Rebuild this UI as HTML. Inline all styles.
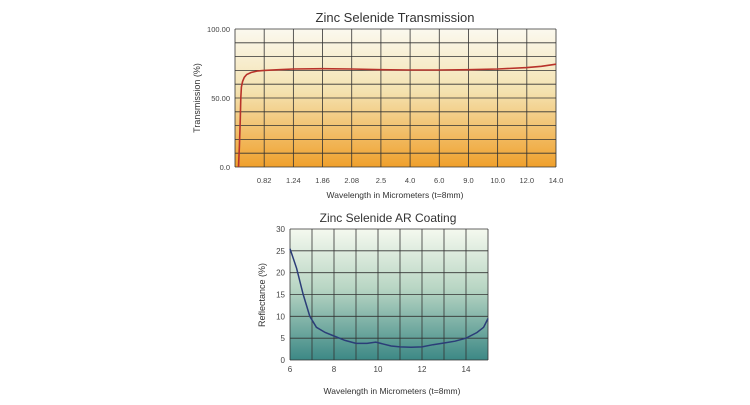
<!DOCTYPE html>
<html><head><meta charset="utf-8"><style>
body{margin:0;background:#fff;width:750px;height:400px;overflow:hidden;font-family:"Liberation Sans",sans-serif}
</style></head><body>
<svg id="s" width="750" height="400">
<defs>
<linearGradient id="g1" x1="0" y1="0" x2="0" y2="1"><stop offset="0" stop-color="#fbf9ef"/><stop offset="0.45" stop-color="#f4e2b0"/><stop offset="1" stop-color="#f0a02c"/></linearGradient>
<linearGradient id="g2" x1="0" y1="0" x2="0" y2="1"><stop offset="0" stop-color="#f5f9ef"/><stop offset="0.45" stop-color="#b9d6c4"/><stop offset="1" stop-color="#3c8885"/></linearGradient>
</defs>
</svg>
<script>
const tCats=["","0.82","1.24","1.86","2.08","2.5","4.0","6.0","9.0","10.0","12.0","14.0"];
const tX=[0.12,0.15,0.18,0.2,0.22,0.26,0.32,0.4,0.55,0.75,1,1.5,2,3,4,5,6,7,8,9,10,10.5,11];
const tY=[0,15,35,50,58,62,65,67,68.5,69.5,70,70.5,71,71.2,71,70.5,70.3,70.3,70.5,71,72,73,74.5];
const tYTicks=[0,50,100];
const rX=[6,6.3,6.6,6.9,7.2,7.6,8,8.5,9,9.5,9.9,10.2,10.6,11,11.5,12,12.5,13,13.5,14,14.5,14.8,15];
const rY=[25.5,21,15,10,7.5,6.3,5.5,4.5,3.8,3.8,4.1,3.7,3.2,3,2.9,3,3.5,3.9,4.3,5,6.3,7.5,9.5];
const rXTicks=[6,8,10,12,14];
const rYTicks=[0,5,10,15,20,25,30];
const s=document.getElementById('s');const NS="http://www.w3.org/2000/svg";
function mk(t,a,txt){const e=document.createElementNS(NS,t);for(const k in a)e.setAttribute(k,a[k]);if(txt!==undefined)e.textContent=txt;s.appendChild(e);return e;}
// chart 1
const L1=235,R1=556,T1=29,B1=167;
const x1=v=>L1+v*(R1-L1)/11, y1=v=>B1-v*(B1-T1)/100;
let e=mk('rect',{x:L1,y:T1,width:R1-L1,height:B1-T1,fill:'url(#g1)'});

for(let i=0;i<=10;i++){e=mk('line',{x1:L1,x2:R1,y1:y1(i*10),y2:y1(i*10),stroke:'#333','stroke-width':0.8});}
for(let i=0;i<=11;i++){e=mk('line',{x1:x1(i),x2:x1(i),y1:T1,y2:B1,stroke:'#333','stroke-width':0.8});}
tCats.forEach((c,i)=>{if(!c)return;e=mk('text',{x:x1(i),y:183,'font-size':7.5,'text-anchor':'middle',fill:'#444'},c);});
tYTicks.forEach(v=>{e=mk('text',{x:L1-5,y:y1(v)+3,'font-size':7.5,'text-anchor':'end',fill:'#444'},v?v.toFixed(2):'0.0');});
e=mk('path',{d:tX.map((v,i)=>(i?'L':'M')+x1(v).toFixed(1)+','+y1(tY[i]).toFixed(1)).join(''),fill:'none',stroke:'#b8322a','stroke-width':1.6});

e=mk('text',{x:395,y:22,'font-size':13,'text-anchor':'middle',fill:'#333'},'Zinc Selenide Transmission');
e=mk('text',{x:395,y:198,'font-size':8.5,'text-anchor':'middle',fill:'#333'},'Wavelength in Micrometers (t=8mm)');
e=mk('text',{x:0,y:0,'font-size':9,'text-anchor':'middle',fill:'#333',transform:'translate(200,98) rotate(-90)'},'Transmission (%)');
// chart 2
const L2=290,R2=488,T2=229,B2=360;
const x2=v=>L2+(v-6)*(R2-L2)/9, y2=v=>B2-v*(B2-T2)/30;
e=mk('rect',{x:L2,y:T2,width:R2-L2,height:B2-T2,fill:'url(#g2)'});

for(let v=0;v<=30;v+=5){e=mk('line',{x1:L2,x2:R2,y1:y2(v),y2:y2(v),stroke:'#333','stroke-width':0.8});}
for(let v=6;v<=15;v++){e=mk('line',{x1:x2(v),x2:x2(v),y1:T2,y2:B2,stroke:'#333','stroke-width':0.8});}
rXTicks.forEach(v=>{e=mk('text',{x:x2(v),y:372,'font-size':8,'text-anchor':'middle',fill:'#444'},v);});
rYTicks.forEach(v=>{e=mk('text',{x:L2-5,y:y2(v)+3,'font-size':8,'text-anchor':'end',fill:'#444'},v);});
e=mk('path',{d:rX.map((v,i)=>(i?'L':'M')+x2(v).toFixed(1)+','+y2(rY[i]).toFixed(1)).join(''),fill:'none',stroke:'#2b3d78','stroke-width':1.5});

e=mk('text',{x:388,y:222,'font-size':12,'text-anchor':'middle',fill:'#333'},'Zinc Selenide AR Coating');
e=mk('text',{x:392,y:394,'font-size':8.5,'text-anchor':'middle',fill:'#333'},'Wavelength in Micrometers (t=8mm)');
e=mk('text',{x:0,y:0,'font-size':9,'text-anchor':'middle',fill:'#333',transform:'translate(265,295) rotate(-90)'},'Reflectance (%)');
</script>
</body></html>
